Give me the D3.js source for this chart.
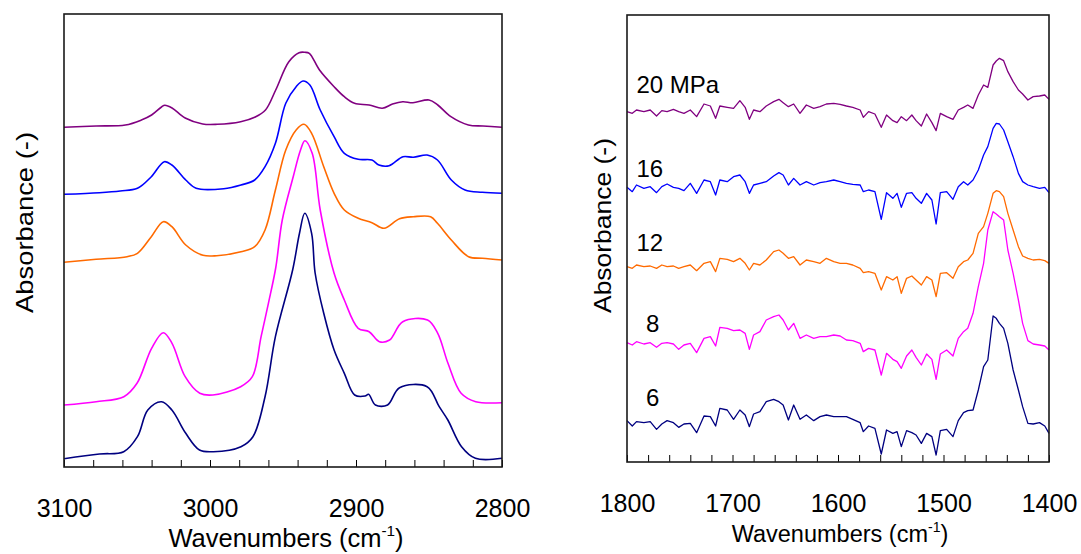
<!DOCTYPE html>
<html><head><meta charset="utf-8">
<script src="https://cdn.jsdelivr.net/npm/d3@7"></script>
<style>
body{margin:0;background:#fff}
svg{display:block}
text{font-family:"Liberation Sans",Arial,Helvetica,sans-serif;fill:#000}
</style></head>
<body><svg id="chart" width="1081" height="554"></svg>
<script>
// ---------------- DATA ----------------
const pressures = ["20 MPa", "16", "12", "8", "6"];
const seriesColors = ["#800080", "#0000ff", "#ff6a00", "#ff00ff", "#000080"];

// Left panel: C-H stretching region, [wavenumber cm-1, absorbance (offset, a.u.)]
const ch20 = [[3100,33.97],[3078,34.1],[3058,34.2],[3047,34.7],[3040,35.2],[3033,36.03],[3031,36.17],[3026,35.9],[3017,34.9],[3005,34.3],[2995,34.27],[2979,34.53],[2969,35.0],[2962,35.7],[2955,37.7],[2946,40.53],[2939,41.43],[2935,41.47],[2932,41.37],[2925,39.7],[2915,38.03],[2908,37.03],[2901,36.37],[2891,36.2],[2882,35.87],[2875,36.3],[2868,36.53],[2861,36.43],[2850,36.7],[2844,36.2],[2835,35.03],[2823,34.2],[2813,34.1],[2800,33.97]];
const ch16 = [[3100,27.27],[3075.7,27.43],[3061.5,27.6],[3049.7,27.87],[3040.2,29.03],[3031.3,30.53],[3026.1,30.2],[3016.6,28.7],[3009.5,27.87],[2990.6,27.83],[2978.8,28.2],[2969.4,28.7],[2962.3,30.03],[2955.2,32.37],[2948.1,36.37],[2941,38.03],[2936.3,38.6],[2931.6,38.2],[2924.5,35.7],[2915,33.03],[2908,31.37],[2898.5,30.77],[2889.1,30.7],[2884.3,30.2],[2877.3,30.13],[2867.8,31.03],[2860.7,30.97],[2851.3,31.2],[2844.2,30.7],[2834.7,28.7],[2825.3,27.7],[2813.5,27.47],[2800,27.37]];
const ch12 = [[3100,20.47],[3078,20.77],[3056.8,21.03],[3049.7,21.37],[3040.2,23.03],[3032,24.53],[3026.1,24.03],[3016.6,22.2],[3004.8,21.17],[2995.4,21.13],[2978.8,21.53],[2969.4,22.03],[2962.3,23.7],[2955.2,27.7],[2948.1,31.7],[2941,33.7],[2935.6,34.27],[2930.4,33.37],[2922.1,30.03],[2915,27.37],[2908,25.7],[2898.5,24.87],[2889.1,24.43],[2880.8,23.87],[2870.2,24.83],[2860.7,25.03],[2848.9,25.03],[2844.2,24.37],[2834.7,22.7],[2822.9,21.03],[2813.5,20.87],[2800,20.7]];
const ch8 = [[3100,6.2],[3078,6.53],[3059,7.03],[3050,8.37],[3040,11.87],[3032,13.43],[3026,12.37],[3017,9.03],[3007,7.37],[2998,7.2],[2979,8.03],[2971,9.03],[2965,13.03],[2960,16.37],[2955,19.9],[2950.5,24.7],[2943,29.03],[2938,31.7],[2935,32.63],[2930,31.37],[2924.5,25.7],[2915,19.37],[2908,16.7],[2898.5,13.87],[2891,13.53],[2884,12.53],[2877,12.7],[2868,14.53],[2851,14.7],[2844,13.37],[2837,10.37],[2828,7.37],[2818,6.53],[2800,6.43]];
const ch6 = [[3100,0.83],[3075.7,1.3],[3059.1,1.53],[3049.7,3.03],[3042.6,5.7],[3033.2,6.53],[3026.1,5.7],[3016.6,3.37],[3007.2,1.7],[2997.7,1.53],[2978.8,2.03],[2970.6,3.03],[2962.3,7.03],[2955.2,13.03],[2943.4,19.7],[2938.7,23.37],[2935.1,25.37],[2930.4,23.37],[2928,19.4],[2922.1,15.37],[2915,11.7],[2908,9.37],[2900.9,7.2],[2893.8,7.1],[2891.4,7.27],[2886.7,6.2],[2878.4,6.2],[2870.2,7.93],[2851.3,8.03],[2843,6.03],[2837.1,4.7],[2827.7,2.03],[2818.2,0.87],[2800,0.87]];

// Right panel: 1800-1400 cm-1 region, shared wavenumber grid (cm-1)
const fpWavenumbers = [1800,1795,1791,1784,1778,1772,1767,1762,1756,1751,1746,1740,1734,1727,1721,1716,1712,1705,1699,1693,1688,1684,1680,1674,1668,1661,1656,1652,1647,1642,1636,1630,1623,1617,1611,1604,1598,1592,1586,1579,1576,1571,1565,1559,1554,1548,1544,1540,1535,1530,1526,1521,1516,1511,1507,1503,1497,1491,1486,1481,1477,1472,1467,1462,1458,1453,1450,1447,1443,1439,1434,1429,1425,1420,1415,1409,1404,1400];
// absorbance (offset, milli a.u.)
const fp20 = [1051,1046,1056,1051,1056,1038,1054,1051,1058,1051,1046,1056,1036,1074,1068,1031,1068,1064,1061,1084,1064,1028,1056,1051,1068,1081,1088,1078,1066,1074,1046,1071,1061,1066,1074,1076,1073,1068,1064,1056,1034,1051,1044,1004,1041,1024,1018,1036,1024,1041,1024,1008,1044,1018,994,1046,1036,1028,1056,1064,1071,1061,1101,1131,1124,1191,1203,1211,1204,1171,1141,1116,1104,1086,1096,1098,1101,1088];
const fp16 = [824,811,831,821,826,808,826,834,824,821,814,836,806,846,841,801,846,841,856,861,841,806,831,836,841,858,868,861,831,851,831,841,831,838,841,846,841,836,833,831,811,816,811,728,808,791,806,764,806,808,791,776,806,786,714,808,811,788,826,841,831,846,876,921,946,1001,1016,1014,996,961,916,866,841,831,826,821,824,808];
const fp12 = [586,581,591,586,588,581,591,586,588,581,586,591,574,596,601,571,611,608,601,611,596,576,596,591,606,631,636,626,611,616,591,606,601,596,611,601,596,596,591,581,568,571,566,516,556,546,556,506,551,558,546,531,556,546,496,566,568,551,586,601,606,626,686,706,746,806,814,811,796,746,696,646,618,611,606,608,604,596];
const fp8 = [358,351,361,354,358,344,356,358,354,338,351,356,328,371,376,348,404,401,394,396,386,338,381,391,426,436,441,426,396,416,371,381,371,376,376,381,378,366,364,356,331,341,336,261,326,308,301,281,318,336,314,291,324,308,248,324,336,318,371,391,401,446,526,596,696,751,744,736,726,636,566,486,416,364,354,351,348,336];
const fp6 = [124,108,121,118,121,98,114,124,118,104,114,116,88,138,136,108,161,156,128,156,141,106,144,151,181,188,181,171,126,171,128,141,124,136,141,136,136,136,128,118,91,108,101,24,96,86,91,46,94,88,81,56,86,76,21,94,98,76,124,148,154,156,216,286,306,438,431,416,401,356,276,216,166,116,114,118,108,86];

// axis ticks
const chTicks = d3.range(3100, 2799, -20);
const chTickLabels = [3100, 3000, 2900, 2800];
const fpTicks = d3.range(1800, 1399, -20);
const fpTickLabels = [1800, 1700, 1600, 1500, 1400];

// annotation anchors for the right panel labels (wavenumber, absorbance)
const labelWn = [1791, 1791, 1791, 1782, 1782];
const labelAbs = [1106, 856, 634, 391, 168];

// ---------------- DRAW ----------------
const svg = d3.select("#chart");

function panel(opt) {
  const g = svg.append("g");
  const x = d3.scaleLinear().domain(opt.xDomain).range([opt.left, opt.right]);
  const y = d3.scaleLinear().domain(opt.yDomain).range([opt.bottom, opt.top]);

  const line = d3.line().x(d => x(d[0])).y(d => y(d[1])).curve(opt.curve);
  opt.series.forEach((s, i) => {
    g.append("path").datum(s).attr("fill", "none")
      .attr("stroke", seriesColors[i]).attr("stroke-width", opt.lw)
      .attr("stroke-linejoin", "round").attr("d", line);
  });

  const ax = d3.axisBottom(x).tickValues(opt.ticks).tickSize(-7)
    .tickFormat(d => opt.labels.includes(d) ? d : "");
  const axg = g.append("g").attr("transform", `translate(0,${opt.bottom})`).call(ax);
  axg.select(".domain").remove();
  axg.selectAll(".tick line").attr("stroke", "#000").attr("stroke-width", 1);
  axg.selectAll(".tick text").attr("y", 50).attr("dy", 0)
    .style("font-size", "25px").attr("fill", "#000")
    .style("font-family", '"Liberation Sans", Arial, sans-serif');

  g.append("rect").attr("x", opt.left).attr("y", opt.top)
    .attr("width", opt.right - opt.left).attr("height", opt.bottom - opt.top)
    .attr("fill", "none").attr("stroke", "#1a1a1a").attr("stroke-width", 1.6);

  // x title
  const t = g.append("text").attr("x", opt.xtX).attr("y", opt.xtY)
    .attr("text-anchor", "middle").style("font-size", opt.xtSize + "px");
  t.append("tspan").text("Wavenumbers (cm");
  t.append("tspan").text("-1").style("font-size", (opt.xtSize * 0.6) + "px").attr("dy", -opt.xtSize * 0.42);
  t.append("tspan").text(")").attr("dy", opt.xtSize * 0.42);

  // y title
  g.append("text").attr("transform", `translate(${opt.ytX},${opt.ytY}) rotate(-90)`)
    .attr("text-anchor", "middle").style("font-size", "24px")
    .attr("textLength", opt.ytLen).attr("lengthAdjust", "spacingAndGlyphs")
    .text("Absorbance (-)");
  return {g, x, y};
}

panel({
  xDomain: [3100, 2800], yDomain: [0, 45.3],
  left: 64, right: 502, top: 14, bottom: 467, lw: 1.6,
  curve: d3.curveCatmullRom.alpha(0.5),
  series: [ch20, ch16, ch12, ch8, ch6],
  ticks: chTicks, labels: chTickLabels,
  xtX: 286, xtY: 547, xtSize: 25.5,
  ytX: 33, ytY: 222.5, ytLen: 181
});

const fpSeries = [fp20, fp16, fp12, fp8, fp6].map(v => fpWavenumbers.map((w, i) => [w, v[i]]));
const R = panel({
  xDomain: [1800, 1400], yDomain: [0, 1341],
  left: 627, right: 1049, top: 15, bottom: 462, lw: 1.3,
  curve: d3.curveLinear,
  series: fpSeries,
  ticks: fpTicks, labels: fpTickLabels,
  xtX: 840, xtY: 541.5, xtSize: 23.5,
  ytX: 611, ytY: 225.5, ytLen: 175
});

pressures.forEach((p, i) => {
  R.g.append("text").attr("x", R.x(labelWn[i])).attr("y", R.y(labelAbs[i]))
    .style("font-size", "24px").text(p);
});
</script></body></html>
